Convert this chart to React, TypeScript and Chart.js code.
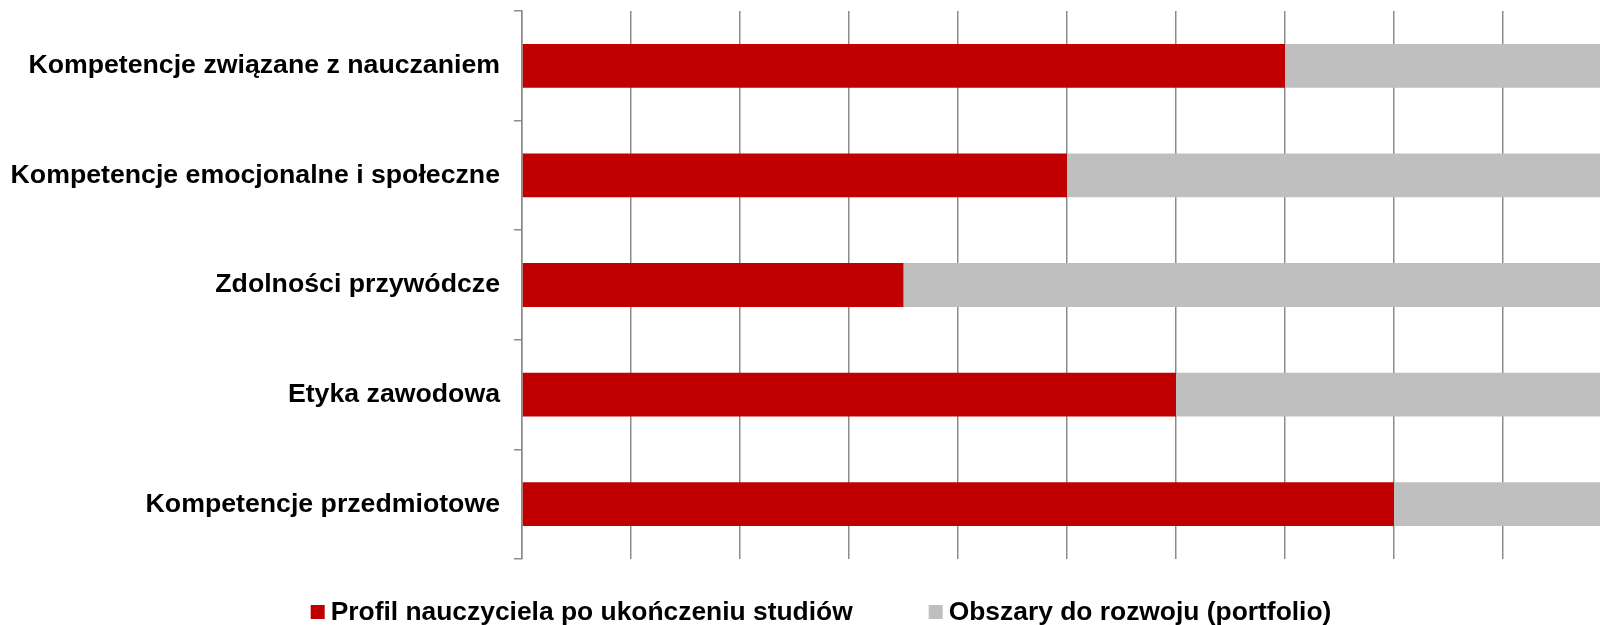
import React, { useEffect, useRef } from "react";
import { Chart, registerables } from "chart.js";

Chart.register(...registerables);

const categories: string[] = [
  "Kompetencje związane z nauczaniem",
  "Kompetencje emocjonalne i społeczne",
  "Zdolności przywódcze",
  "Etyka zawodowa",
  "Kompetencje przedmiotowe",
];

const seriesNames: string[] = [
  "Profil nauczyciela po ukończeniu studiów",
  "Obszary do rozwoju (portfolio)",
];

const profilValues: number[] = [70, 50, 35, 60, 80];
const obszaryValues: number[] = [30, 50, 65, 40, 20];

const xMin = 0;
const xMax = 100;
const xStep = 10;

const RED = "#C00000";
const GREY = "#BFBFBF";
const AXIS = "#8c8c8c";
const FONT_FAMILY = '"Liberation Sans", Arial, Helvetica, sans-serif';
const LABEL_SIZE = 26.7;
const LEGEND_SIZE = 26.4;

const CANVAS_W = 1640;
const CANVAS_H = 625;

const legendPlugin = {
  id: "customLegend",
  afterDraw(chart: any) {
    const ctx = chart.ctx as CanvasRenderingContext2D;
    ctx.save();
    ctx.font = `bold ${LEGEND_SIZE}px ${FONT_FAMILY}`;
    const box = 14;
    const gap = 6;
    const itemGap = 76;
    const center = 821;
    const items = chart.data.datasets.map((ds: any) => ({
      text: ds.label as string,
      color: ds.backgroundColor as string,
      w: ctx.measureText(ds.label).width,
    }));
    const total =
      items.reduce((a: number, it: any) => a + box + gap + it.w, 0) +
      itemGap * (items.length - 1);
    let x = center - total / 2;
    const baseline = 620;
    items.forEach((it: any) => {
      ctx.fillStyle = it.color;
      ctx.fillRect(x, 605, box, box);
      ctx.fillStyle = "#000";
      ctx.textAlign = "left";
      ctx.textBaseline = "alphabetic";
      ctx.fillText(it.text, x + box + gap, baseline);
      x += box + gap + it.w + itemGap;
    });
    ctx.restore();
  },
};

export default function App() {
  const canvasRef = useRef<HTMLCanvasElement | null>(null);

  useEffect(() => {
    if (!canvasRef.current) return;
    const chart = new Chart(canvasRef.current, {
      type: "bar",
      data: {
        labels: categories,
        datasets: [
          {
            label: seriesNames[0],
            data: profilValues,
            backgroundColor: RED,
            borderWidth: 0,
            categoryPercentage: 1,
            barPercentage: 0.4,
          },
          {
            label: seriesNames[1],
            data: obszaryValues,
            backgroundColor: GREY,
            borderWidth: 0,
            categoryPercentage: 1,
            barPercentage: 0.4,
          },
        ],
      },
      options: {
        indexAxis: "y",
        animation: false,
        responsive: false,
        devicePixelRatio: 1,
        layout: { padding: { top: 11, bottom: 66, left: 0, right: 28 } },
        plugins: {
          legend: { display: false },
          tooltip: { enabled: false },
        },
        scales: {
          x: {
            stacked: true,
            min: xMin,
            max: xMax,
            ticks: { display: false, stepSize: xStep },
            grid: { color: AXIS, lineWidth: 1.5, drawTicks: false },
            border: { display: false },
            afterFit: (s: any) => {
              s.height = 0;
              s.paddingLeft = 0;
              s.paddingRight = 0;
            },
          },
          y: {
            stacked: true,
            grid: {
              display: true,
              drawOnChartArea: false,
              drawTicks: true,
              tickLength: 8,
              color: AXIS,
              lineWidth: 1.5,
              offset: true,
            },
            border: { display: true, color: AXIS, width: 1.5 },
            ticks: {
              color: "#000",
              padding: 14,
              font: { family: FONT_FAMILY, size: LABEL_SIZE, weight: "bold" },
            },
            afterFit: (s: any) => {
              s.width = 522;
              s.paddingTop = 0;
              s.paddingBottom = 0;
            },
          },
        },
      },
      plugins: [legendPlugin],
    });
    return () => chart.destroy();
  }, []);

  return (
    <div
      style={{
        position: "absolute",
        left: 0,
        top: 0,
        width: 1600,
        height: 625,
        overflow: "hidden",
        background: "#fff",
      }}
    >
      <canvas
        ref={canvasRef}
        width={CANVAS_W}
        height={CANVAS_H}
        style={{ width: CANVAS_W, height: CANVAS_H, display: "block" }}
      />
    </div>
  );
}
